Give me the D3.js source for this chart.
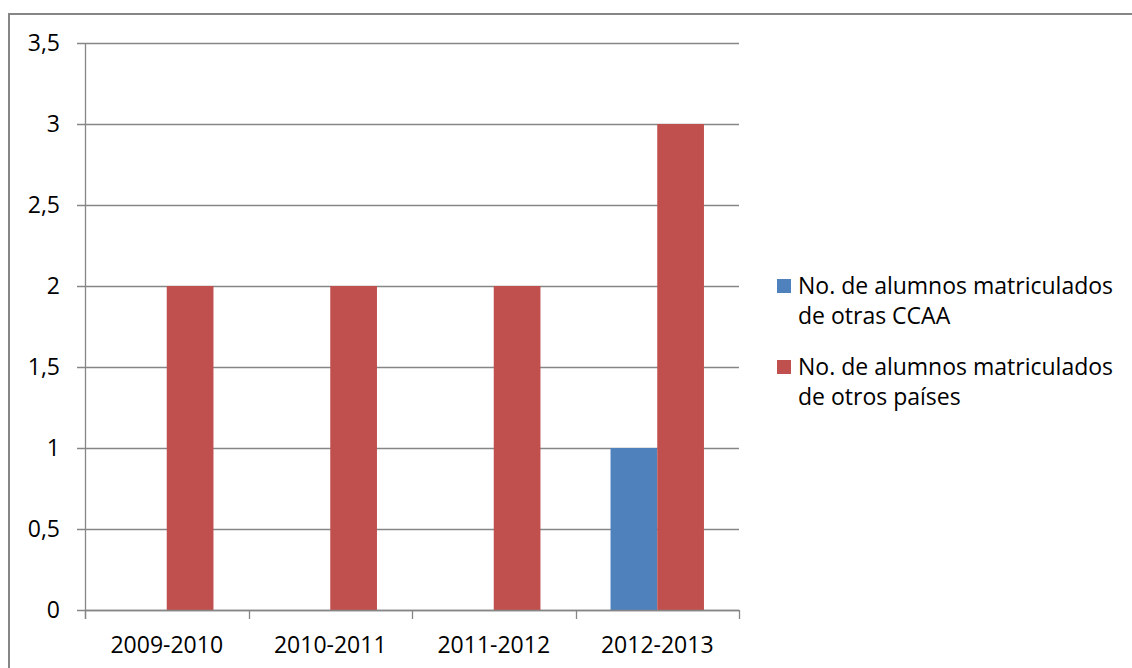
<!DOCTYPE html>
<html>
<head>
<meta charset="utf-8">
<script src="https://cdn.jsdelivr.net/npm/d3@7"></script>
<style>
  body { margin: 0; background: #fff; }
  svg { display: block; font-family: "Open Sans", sans-serif; }
</style>
</head>
<body>
<div id="chart"></div>
<script>
const categories = ['2009-2010', '2010-2011', '2011-2012', '2012-2013'];
const seriesNames = [
  ['No. de alumnos matriculados', 'de otras CCAA'],
  ['No. de alumnos matriculados', 'de otros países']
];
const ccaaValues = [0, 0, 0, 1];
const paisesValues = [2, 2, 2, 3];
const yTicks = [0, 0.5, 1, 1.5, 2, 2.5, 3, 3.5];
const colors = ['#4F81BD', '#C0504D'];

const w = 1132, h = 668;
const plotLeft = 85, plotRight = 739, plotTop = 43, plotBottom = 610;
const grid = '#868686';
const fontSize = 23;

const svg = d3.select('#chart').append('svg').attr('width', w).attr('height', h);

// outer frame (runs off the right and bottom edge)
svg.append('rect')
  .attr('x', 9).attr('y', 14).attr('width', 1140).attr('height', 700)
  .attr('fill', 'none').attr('stroke', grid).attr('stroke-width', 2);

const x0 = d3.scaleBand().domain(categories).range([plotLeft, plotRight])
  .paddingInner(1.5 / 3.5).paddingOuter(0.75 / 3.5);
const x1 = d3.scaleBand().domain([0, 1]).range([0, x0.bandwidth()]);
const y = d3.scaleLinear().domain([0, 3.5]).range([plotBottom, plotTop]);
const fmt = d => String(d).replace('.', ',');

// gridlines + y tick labels
const yAxis = svg.append('g');
yAxis.selectAll('line').data(yTicks).enter().append('line')
  .attr('x1', plotLeft - 8).attr('x2', plotRight)
  .attr('y1', d => Math.round(y(d)) + 0.5).attr('y2', d => Math.round(y(d)) + 0.5)
  .attr('stroke', grid).attr('stroke-width', 1.3);
yAxis.selectAll('text').data(yTicks).enter().append('text')
  .attr('x', 60).attr('y', d => y(d))
  .attr('dy', '0.35em').attr('text-anchor', 'end')
  .attr('font-size', fontSize).attr('fill', '#000')
  .text(fmt);

// y axis line
svg.append('line')
  .attr('x1', plotLeft + 0.5).attr('x2', plotLeft + 0.5).attr('y1', plotTop).attr('y2', plotBottom + 9)
  .attr('stroke', grid).attr('stroke-width', 1.3);

// bars
const rows = categories.map((c, i) => ({ cat: c, vals: [ccaaValues[i], paisesValues[i]] }));
const groups = svg.selectAll('.grp').data(rows).enter().append('g')
  .attr('transform', d => `translate(${x0(d.cat)},0)`);
groups.selectAll('rect').data(d => d.vals.map((v, k) => ({ k, v })).filter(e => e.v > 0))
  .enter().append('rect')
  .attr('x', d => x1(d.k)).attr('width', x1.bandwidth())
  .attr('y', d => y(d.v)).attr('height', d => y(0) - y(d.v))
  .attr('fill', d => colors[d.k]);

// x axis
const step = x0.step();
const bounds = d3.range(categories.length + 1).map(i => plotLeft + i * step);
svg.append('line')
  .attr('x1', plotLeft).attr('x2', plotRight).attr('y1', plotBottom + 0.5).attr('y2', plotBottom + 0.5)
  .attr('stroke', grid).attr('stroke-width', 1.3);
svg.selectAll('.xtick').data(bounds).enter().append('line')
  .attr('x1', d => Math.round(d) + 0.5).attr('x2', d => Math.round(d) + 0.5)
  .attr('y1', plotBottom).attr('y2', plotBottom + 9)
  .attr('stroke', grid).attr('stroke-width', 1.3);
svg.selectAll('.xlab').data(categories).enter().append('text')
  .attr('x', d => x0(d) + x0.bandwidth() / 2).attr('y', 645)
  .attr('dy', '0.35em').attr('text-anchor', 'middle')
  .attr('font-size', fontSize).attr('fill', '#000')
  .text(d => d);

// legend
const legend = svg.selectAll('.leg').data(seriesNames).enter().append('g')
  .attr('transform', (d, i) => `translate(777,${279 + i * 81})`);
legend.append('rect').attr('width', 14).attr('height', 14)
  .attr('fill', (d, i) => colors[i]);
legend.append('text')
  .attr('x', 21).attr('y', 7).attr('font-size', fontSize).attr('fill', '#000')
  .selectAll('tspan').data(d => d).enter().append('tspan')
  .attr('x', 21).attr('dy', (d, i) => i === 0 ? '0.35em' : 30)
  .text(d => d);
</script>
</body>
</html>
